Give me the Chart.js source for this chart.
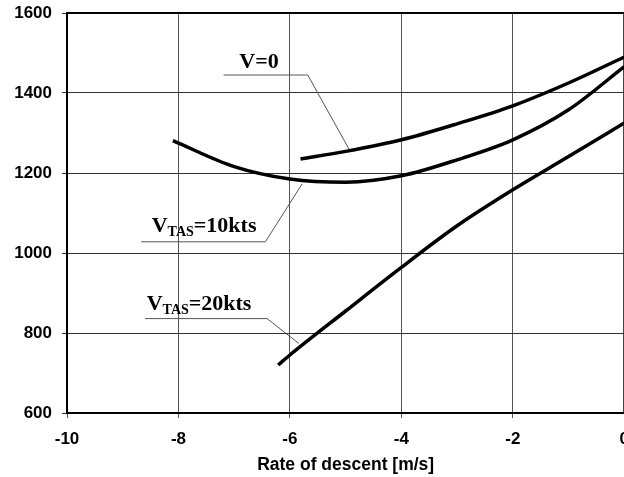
<!DOCTYPE html>
<html>
<head>
<meta charset="utf-8">
<script src="https://cdn.jsdelivr.net/npm/chart.js@4/dist/chart.umd.min.js"></script>
<style>
  html, body { margin: 0; padding: 0; background: #fff; overflow: hidden; }
  #wrap { width: 640px; height: 477px; position: relative; }
  canvas { display: block; }
</style>
</head>
<body>
<div id="wrap"><canvas id="c" width="640" height="477"></canvas></div>
<script>
// ---- data ----
const xTicks = [-10, -8, -6, -4, -2, 0];
const yTicks = [600, 800, 1000, 1200, 1400, 1600];

const v0X    = [-5.81, -5, -4, -3, -2, -1, 0];
const v0Y    = [1235, 1254, 1283, 1323, 1368, 1425, 1490];

const v10X   = [-8.1, -7, -6, -5, -4, -3, -2, -1, 0];
const v10Y   = [1281, 1216, 1185, 1177, 1193, 1233, 1283, 1358, 1466];

const v20X   = [-6.21, -6, -5, -4, -3, -2, -1, 0];
const v20Y   = [720, 745, 855, 964, 1068, 1158, 1241, 1325];

// annotation labels and their leader lines (data units)
const labelMain = ["V", "V", "V"];
const labelSub  = ["", "TAS", "TAS"];
const labelRest = ["=0", "=10kts", "=20kts"];
const labelX    = [-6.20, -8.48, -8.57];      // text anchor x
const labelY    = [1463, 1053, 857];          // text baseline y
const labelAlign = ["right", "left", "left"];
const leaderX   = [[-7.19, -5.68, -4.94], [-8.67, -6.44, -5.78], [-8.60, -6.41, -5.84]];
const leaderY   = [[1445, 1445, 1260], [1028, 1028, 1173], [836, 836, 774]];

const toPts = (xs, ys) => xs.map((x, i) => ({x: x, y: ys[i]}));

const frameAndLabels = {
  id: 'frameAndLabels',
  afterDatasetsDraw(chart) {
    const {ctx, chartArea: a, scales: {x, y}} = chart;
    ctx.save();
    // leader lines
    ctx.strokeStyle = '#555';
    ctx.lineWidth = 1;
    leaderX.forEach((lx, i) => {
      ctx.beginPath();
      lx.forEach((v, j) => {
        const px = x.getPixelForValue(v), py = y.getPixelForValue(leaderY[i][j]);
        if (j === 0) ctx.moveTo(px, py); else ctx.lineTo(px, py);
      });
      ctx.stroke();
    });
    // labels
    ctx.fillStyle = '#000';
    ctx.textBaseline = 'alphabetic';
    const big = 'bold 22px "Liberation Serif", "Times New Roman", serif';
    const small = 'bold 14px "Liberation Serif", "Times New Roman", serif';
    labelMain.forEach((m, i) => {
      ctx.font = big; const w1 = ctx.measureText(m).width;
      const w3 = ctx.measureText(labelRest[i]).width;
      ctx.font = small; const w2 = labelSub[i] ? ctx.measureText(labelSub[i]).width : 0;
      const total = w1 + w2 + w3;
      let px = x.getPixelForValue(labelX[i]);
      if (labelAlign[i] === 'right') px -= total;
      const py = y.getPixelForValue(labelY[i]);
      ctx.textAlign = 'left';
      ctx.font = big; ctx.fillText(m, px, py);
      if (labelSub[i]) { ctx.font = small; ctx.fillText(labelSub[i], px + w1, py + 4); }
      ctx.font = big; ctx.fillText(labelRest[i], px + w1 + w2, py);
    });
    // frame
    ctx.strokeStyle = '#000';
    ctx.lineWidth = 2;
    ctx.strokeRect(a.left, a.top, a.right - a.left, a.bottom - a.top);
    ctx.restore();
  }
};

const lineStyle = {
  showLine: true, borderColor: '#000', borderWidth: 3.5, pointRadius: 0,
  cubicInterpolationMode: 'monotone', fill: false
};

new Chart(document.getElementById('c'), {
  type: 'scatter',
  data: {
    datasets: [
      Object.assign({label: 'V=0', data: toPts(v0X, v0Y)}, lineStyle),
      Object.assign({label: 'VTAS=10kts', data: toPts(v10X, v10Y)}, lineStyle),
      Object.assign({label: 'VTAS=20kts', data: toPts(v20X, v20Y)}, lineStyle)
    ]
  },
  options: {
    responsive: false,
    animation: false,
    devicePixelRatio: 1,
    layout: { padding: { top: 13, right: 7, left: 0, bottom: 0 } },
    plugins: { legend: { display: false }, tooltip: { enabled: false } },
    scales: {
      x: {
        type: 'linear', min: -10, max: 0,
        afterBuildTicks: s => { s.ticks = xTicks.map(v => ({value: v})); },
        afterFit: s => { s.height = 64; },
        ticks: { color: '#000', font: { family: '"Liberation Sans", Arial, sans-serif', size: 17, weight: 'bold' },
                 padding: 11, maxRotation: 0, autoSkip: false, callback: v => String(v) },
        grid: { color: '#555', lineWidth: 1, tickLength: 5, drawTicks: true },
        border: { display: false },
        title: { display: true, text: 'Rate of descent [m/s]', color: '#000',
                 font: { family: '"Liberation Sans", Arial, sans-serif', size: 17.5, weight: 'bold' },
                 padding: { top: 0, bottom: 1.5 } }
      },
      y: {
        type: 'linear', min: 600, max: 1600,
        afterBuildTicks: s => { s.ticks = yTicks.map(v => ({value: v})); },
        afterFit: s => { s.width = 67; s.paddingTop = 0; s.paddingBottom = 0; },
        ticks: { color: '#000', font: { family: '"Liberation Sans", Arial, sans-serif', size: 17, weight: 'bold' },
                 padding: 10, autoSkip: false, callback: v => String(v) },
        grid: { color: '#333', lineWidth: 1, tickLength: 5 },
        border: { display: false }
      }
    }
  },
  plugins: [frameAndLabels]
});
</script>
</body>
</html>
